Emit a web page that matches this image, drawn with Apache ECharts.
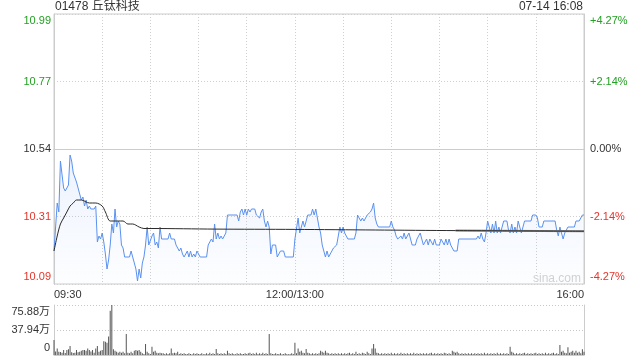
<!DOCTYPE html>
<html><head><meta charset="utf-8">
<script src="https://cdn.jsdelivr.net/npm/echarts@6/dist/echarts.min.js"></script>
<style>html,body{margin:0;padding:0;background:#fff}#c{width:640px;height:360px}</style>
</head><body><div id="c"></div>
<script>
const titleText = '01478 丘钛科技';
const dateText = '07-14 16:08';
const prevClose = 10.54;
const priceTickLabels = ['10.09','10.31','10.54','10.77','10.99'];
const pctTickLabels = ['-4.27%','-2.14%','0.00%','+2.14%','+4.27%'];
const volTickLabels = ['0','37.94万','75.88万'];
const timeLabels = {0:'09:30',150:'12:00/13:00',330:'16:00'};

const priceMinutes = [0,2,3,4,5,6,7,8,9,10,11,12,14,16,17,18,19,20,21,22,23,25,26,27,28,29,30,31,32,33,34,35,36,37,38,39,40,41,42,43,44,47,48,49,50,51,52,53,54,55,56,57,58,59,60,61,62,63,64,65,66,67,68,71,72,73,75,76,77,78,79,80,81,82,83,84,85,86,87,88,89,90,91,95,96,97,98,99,100,101,102,103,104,105,106,107,108,109,114,115,116,117,118,119,120,121,122,123,125,126,127,128,129,130,131,132,133,134,135,136,138,139,140,141,143,144,149,150,151,152,153,154,155,156,157,158,160,161,162,163,164,165,166,167,168,169,170,171,172,174,176,177,178,179,180,181,182,183,187,188,189,190,191,192,193,194,195,196,197,198,199,200,201,202,209,210,211,212,213,214,215,216,217,218,219,220,221,222,223,225,226,227,228,229,230,231,232,233,234,235,236,237,238,240,241,242,243,244,245,246,247,248,249,251,252,263,264,265,266,267,268,269,270,271,272,273,274,275,276,277,278,279,280,282,283,284,285,286,287,288,289,290,291,292,293,297,298,300,301,302,304,305,312,313,314,315,316,317,318,319,320,324,325,327,328,329,330];
const prices = [10.20,10.36,10.33,10.50,10.50,10.41,10.40,10.41,10.42,10.52,10.50,10.46,10.43,10.39,10.37,10.38,10.35,10.37,10.34,10.35,10.34,10.34,10.35,10.23,10.25,10.24,10.26,10.23,10.19,10.14,10.17,10.22,10.29,10.26,10.34,10.28,10.30,10.29,10.22,10.21,10.18,10.18,10.20,10.18,10.16,10.14,10.10,10.14,10.11,10.16,10.18,10.22,10.28,10.22,10.22,10.25,10.26,10.22,10.23,10.21,10.28,10.24,10.24,10.24,10.26,10.24,10.24,10.22,10.22,10.20,10.21,10.19,10.18,10.18,10.20,10.18,10.20,10.18,10.19,10.18,10.20,10.19,10.18,10.18,10.22,10.22,10.24,10.23,10.29,10.24,10.26,10.24,10.25,10.24,10.25,10.26,10.32,10.32,10.32,10.30,10.33,10.34,10.32,10.34,10.32,10.34,10.33,10.34,10.34,10.32,10.32,10.31,10.33,10.34,10.30,10.28,10.30,10.28,10.19,10.22,10.22,10.18,10.18,10.20,10.20,10.18,10.18,10.24,10.24,10.31,10.26,10.26,10.30,10.28,10.30,10.32,10.32,10.34,10.32,10.34,10.31,10.28,10.26,10.22,10.20,10.18,10.20,10.18,10.19,10.21,10.22,10.25,10.28,10.26,10.28,10.26,10.26,10.24,10.24,10.26,10.32,10.32,10.30,10.31,10.30,10.31,10.32,10.32,10.33,10.34,10.36,10.31,10.29,10.28,10.28,10.30,10.28,10.27,10.25,10.24,10.24,10.25,10.24,10.26,10.24,10.24,10.26,10.24,10.22,10.22,10.24,10.24,10.26,10.26,10.22,10.22,10.24,10.22,10.24,10.24,10.22,10.24,10.22,10.22,10.24,10.24,10.22,10.24,10.22,10.24,10.22,10.21,10.20,10.20,10.24,10.24,10.25,10.24,10.26,10.24,10.23,10.26,10.30,10.30,10.26,10.29,10.26,10.30,10.26,10.28,10.26,10.26,10.30,10.30,10.27,10.26,10.29,10.26,10.28,10.26,10.30,10.30,10.26,10.26,10.30,10.30,10.32,10.32,10.31,10.28,10.28,10.30,10.30,10.27,10.25,10.28,10.26,10.24,10.26,10.26,10.28,10.28,10.30,10.30,10.31,10.32,10.32];

const avgMinutes = [0,2,4,6,8,10,12,14,17,22,26,30,32,35,40,43,46,49,53,56,61,100,150,200,250,330];
const avgPrices = [10.20,10.25,10.29,10.31,10.33,10.35,10.36,10.37,10.37,10.36,10.36,10.35,10.33,10.30,10.30,10.30,10.29,10.29,10.28,10.275,10.275,10.273,10.272,10.270,10.268,10.266];
const avgTailMinutes = [250,330];
const avgTailPrices = [10.268,10.266];

// volume per minute (万股), minute 0 = 09:30
const volumes = [
22.8,5.5,10,5,4.5,3.5,7.6,3,7.6,8.6,
13.7,4,3,3.5,7.6,4,5,6.6,7.6,7.6,
6.6,10,7.6,5.5,7.6,3.5,10,13.7,5,6.6,
7.6,21,20,18.7,28,67,75.88,8.6,6.6,5,
3.5,5,3.5,5,2.5,32,3.5,2.5,5,2.5,
6.6,7.6,6.6,7.6,5,2.5,1.5,16.7,5,2.5,
1.5,12.6,5,6.6,3.5,2.5,3.5,2.5,2.5,1.5,
2.5,1.5,2.5,10,2.5,3.5,2.5,5,1.5,2.5,
1.5,2.5,1.5,1.5,2.5,1.5,1,2.5,1.5,2.5,
1.5,1.5,2.5,1,1.5,2.5,1.5,3.5,1.5,2.5,
1.5,9,2.5,1.5,2.5,1.5,2.5,1.5,6.5,2.5,
1.5,2.5,1.5,1,2.5,1.5,2.5,1.5,1.5,2.5,
1.5,2.5,3.5,1.5,2.5,1.5,3.5,1.5,2.5,1.5,
3.5,1.5,2.5,1.5,32,2.5,1.5,1.5,2.5,1.5,
1.5,2.5,1,1.5,2.5,1.5,1,1.5,2.5,1.5,
18.7,2.5,10,5,6.6,3.5,2.5,9,3.5,2.5,
1.5,2.5,1.5,2.5,1.5,2.5,6.6,5,3.5,6.6,
3.5,2.5,1.5,2.5,1.5,2.5,1.5,2.5,1.5,2.5,
1.5,2.5,1.5,2.5,3.5,1.5,2.5,1.5,5,1.5,
2.5,1.5,3.5,2.5,1.5,5,2.5,1.5,10,16.7,
10,3.5,2.5,1.5,2.5,1.5,2.5,1.5,2.5,1.5,
3.5,1.5,2.5,1.5,2.5,1.5,3.5,1.5,2.5,1.5,
2.5,1.5,2.5,1.5,3.5,1.5,2.5,1.5,2.5,1.5,
2.5,1.5,2.5,1.5,2.5,3.5,1.5,2.5,1.5,2.5,
1.5,2.5,1.5,3.5,2.5,1.5,2.5,1.5,6.6,5,
3.5,5,2.5,1.5,2.5,1.5,2.5,1.5,2.5,1.5,
2.5,1.5,2.5,1.5,2.5,1.5,2.5,1.5,3.5,1.5,
2.5,1.5,2.5,1.5,2.5,1.5,3.5,1.5,2.5,1.5,
2.5,1.5,2.5,1.5,12.6,5,3.5,1.5,2.5,1.5,
2.5,1.5,2.5,3.5,1.5,2.5,1.5,2.5,1.5,2.5,
3.5,1.5,2.5,1.5,2.5,1.5,3.5,1.5,2.5,1.5,
2.5,3.5,1.5,2.5,1.5,15,5,6.6,3.5,2.5,
11.6,3.5,5,6.6,3.5,6.6,3.5,5,2.5,8.6,5
];

const UP = '#22a022', DOWN = '#e5342a', FLAT = '#333';
const FONT = '"Liberation Sans", Arial, "Noto Sans CJK SC", sans-serif';
const half = 0.45, step = 0.225;

const chart = echarts.init(document.getElementById('c'), null, {renderer: 'canvas'});
const priceData = priceMinutes.map((t, i) => [t, +(prices[i] - prevClose).toFixed(4)]);
const avgData = avgMinutes.map((t, i) => [t, +(avgPrices[i] - prevClose).toFixed(4)]);
const avgTail = avgTailMinutes.map((t, i) => [t, +(avgTailPrices[i] - prevClose).toFixed(4)]);
const volData = volumes.map((v, i) => [i, v]);

function tickIdx(v) { return Math.round(v / step) + 2; }
function priceLabel(list) {
  return function (v) {
    const i = tickIdx(v);
    const s = list[i];
    if (i === 4) return '{ut|' + s + '}';
    if (i === 3) return '{u|' + s + '}';
    if (i === 2) return '{f|' + s + '}';
    if (i === 1) return '{d|' + s + '}';
    return '{db|' + s + '}';
  };
}
const priceRich = {
  ut: {color: UP, fontSize: 11, fontFamily: FONT, padding: [13, 0, 0, 0]},
  u: {color: UP, fontSize: 11, fontFamily: FONT},
  f: {color: FLAT, fontSize: 11, fontFamily: FONT},
  d: {color: DOWN, fontSize: 11, fontFamily: FONT},
  db: {color: DOWN, fontSize: 11, fontFamily: FONT, padding: [0, 0, 14, 0]}
};

chart.setOption({
  animation: false,
  textStyle: {fontFamily: FONT},
  title: [
    {text: titleText, left: 55, top: 1, padding: 0, textStyle: {fontSize: 12, fontWeight: 'normal', color: '#333', fontFamily: FONT}},
    {text: dateText, right: 57, top: 1, padding: 0, textStyle: {fontSize: 12, fontWeight: 'normal', color: '#333', fontFamily: FONT}}
  ],
  graphic: [{type: 'text', left: 533, top: 273, style: {text: 'sina.com', fill: '#d2d2d2', fontSize: 12, fontFamily: FONT}, z: 1}],
  grid: [
    {left: 54, right: 56, top: 14, height: 270, show: true, borderColor: '#ccc', borderWidth: 1, backgroundColor: 'transparent'},
    {left: 54, right: 56, top: 305, height: 50}
  ],
  xAxis: [
    {type: 'value', gridIndex: 0, min: 0, max: 330, interval: 30,
     axisLine: {show: true, lineStyle: {color: '#ccc'}}, axisTick: {show: false},
     splitLine: {show: true, lineStyle: {color: '#d0d0d0', type: [1, 2]}},
     axisLabel: {show: true, color: '#333', fontSize: 11, fontFamily: FONT, margin: 5,
       alignMinLabel: 'left', alignMaxLabel: 'right',
       formatter: v => timeLabels[v] || ''}},
    {type: 'value', gridIndex: 1, min: 0, max: 330, interval: 30,
     axisLine: {show: true, lineStyle: {color: '#ccc'}}, axisTick: {show: false},
     splitLine: {show: false}, axisLabel: {show: false}}
  ],
  yAxis: [
    {type: 'value', gridIndex: 0, min: -half, max: half, interval: step, position: 'left',
     axisLine: {show: true, lineStyle: {color: '#ccc'}}, axisTick: {show: false},
     splitLine: {show: true, lineStyle: {color: '#d0d0d0', type: [1, 2]}},
     axisLabel: {margin: 3, formatter: priceLabel(priceTickLabels), rich: priceRich}},
    {type: 'value', gridIndex: 0, min: -half, max: half, interval: step, position: 'right',
     axisLine: {show: true, lineStyle: {color: '#ccc'}}, axisTick: {show: false},
     splitLine: {show: false},
     axisLabel: {margin: 6, formatter: priceLabel(pctTickLabels), rich: priceRich}},
    {type: 'value', gridIndex: 1, min: 0, max: 75.88, interval: 37.94, position: 'left',
     axisLine: {show: true, lineStyle: {color: '#ccc'}}, axisTick: {show: false},
     splitLine: {show: true, lineStyle: {color: '#c8c8c8', type: [1, 2]}},
     axisLabel: {margin: 4, formatter: function (v) {
        const i = Math.round(v / 37.94);
        if (i === 2) return '{t|' + volTickLabels[2] + '}';
        if (i === 0) return '{b|' + volTickLabels[0] + '}';
        return '{m|' + volTickLabels[1] + '}';
      }, rich: {
        t: {color: '#333', fontSize: 11, fontFamily: FONT, padding: [14, 0, 0, 0]},
        m: {color: '#333', fontSize: 11, fontFamily: FONT},
        b: {color: '#333', fontSize: 11, fontFamily: FONT, padding: [0, 0, 14, 0]}
      }}},
    {type: 'value', gridIndex: 1, min: 0, max: 75.88, interval: 37.94, position: 'right',
     axisLine: {show: true, lineStyle: {color: '#ccc'}}, axisTick: {show: false},
     splitLine: {show: false}, axisLabel: {show: false}}
  ],
  series: [
    {type: 'line', xAxisIndex: 0, yAxisIndex: 0, data: priceData, showSymbol: false, symbol: 'none',
     lineStyle: {color: '#5a91f0', width: 1},
     areaStyle: {origin: 'start', color: new echarts.graphic.LinearGradient(0, 0, 0, 1, [
       {offset: 0, color: 'rgba(90,145,240,0.16)'}, {offset: 1, color: 'rgba(90,145,240,0.02)'}])},
     z: 3},
    {type: 'line', xAxisIndex: 0, yAxisIndex: 0, data: avgTail, showSymbol: false, symbol: 'none',
     lineStyle: {color: '#8a8a8a', width: 2}, z: 4},
    {type: 'line', xAxisIndex: 0, yAxisIndex: 0, data: avgData, showSymbol: false, symbol: 'none', smooth: 0.3,
     lineStyle: {color: '#2a2a2a', width: 1}, z: 5},
    {type: 'bar', xAxisIndex: 1, yAxisIndex: 2, data: volData, barWidth: 1,
     itemStyle: {color: '#555'}, z: 3}
  ]
});
</script></body></html>
